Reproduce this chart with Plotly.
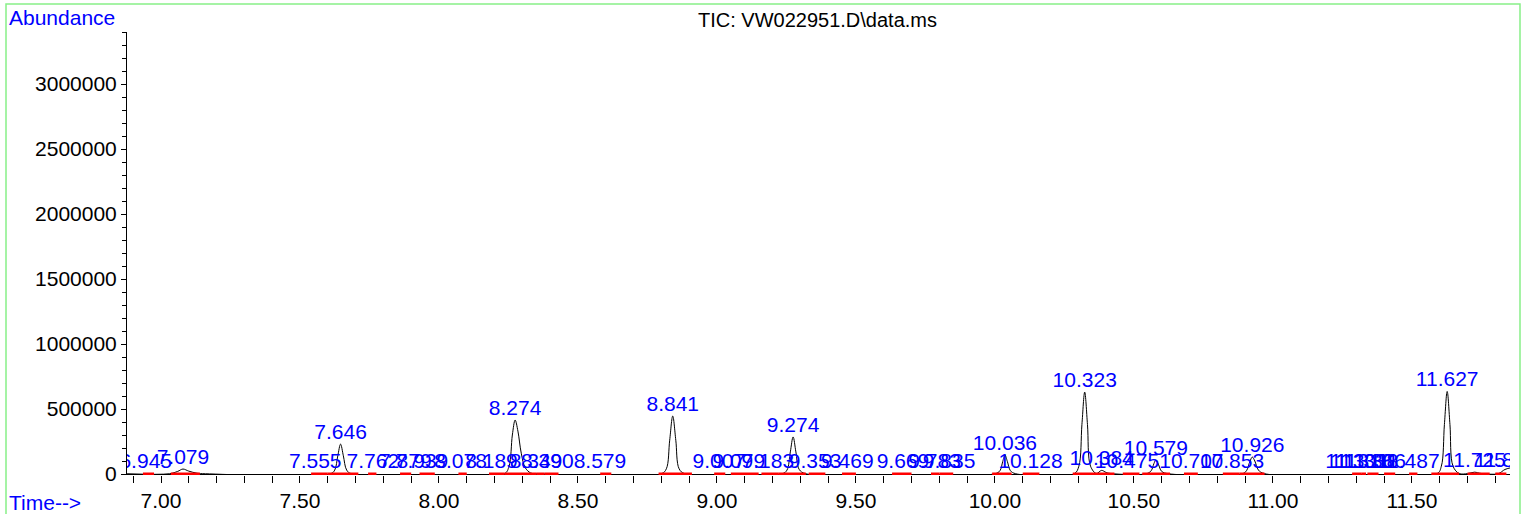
import plotly.graph_objects as go

# ---- chromatogram trace (time in min, abundance) ----
tic_time = [6.878, 7.03, 7.06, 7.079, 7.10, 7.13, 7.16,
            7.61, 7.625, 7.636, 7.646, 7.656, 7.668, 7.685,
            8.235, 8.252, 8.264, 8.274, 8.284, 8.296, 8.31, 8.33, 8.36,
            8.80, 8.818, 8.83, 8.841, 8.852, 8.864, 8.885,
            9.235, 9.252, 9.264, 9.274, 9.284, 9.296, 9.32,
            10.00, 10.018, 10.028, 10.036, 10.045, 10.056, 10.075,
            10.285, 10.302, 10.313, 10.323, 10.333, 10.344, 10.365,
            10.384, 10.40, 10.42,
            10.545, 10.562, 10.572, 10.579, 10.588, 10.60, 10.625,
            10.89, 10.905, 10.917, 10.926, 10.935, 10.948, 10.97,
            11.59, 11.606, 11.617, 11.627, 11.637, 11.648, 11.67,
            11.70, 11.725, 11.75, 11.81, 11.835, 11.86]
tic_abund = [2000, 2000, 20000, 38000, 22000, 6000, 2000,
             2000, 30000, 140000, 230000, 140000, 30000, 2000,
             2000, 60000, 300000, 415000, 330000, 160000, 50000, 8000, 2000,
             2000, 40000, 260000, 446000, 260000, 40000, 2000,
             2000, 30000, 170000, 285000, 170000, 35000, 2000,
             2000, 25000, 95000, 146000, 95000, 25000, 2000,
             2000, 60000, 380000, 630000, 380000, 60000, 4000,
             28000, 12000, 3000,
             2000, 25000, 80000, 108000, 75000, 20000, 2000,
             2000, 25000, 95000, 130000, 100000, 30000, 3000,
             2000, 60000, 380000, 635000, 380000, 60000, 4000,
             3000, 14000, 4000, 2000, 35000, 50000]

# ---- integrated peaks: label, apex abundance, integration start/end ----
peak_labels = ["6.945", "7.079", "7.555", "7.646", "7.762", "7.879", "7.939", "8.078",
               "8.189", "8.274", "8.349", "8.390", "8.579", "8.841", "9.007", "9.079",
               "9.183", "9.274", "9.353", "9.469", "9.669", "9.783", "9.835", "10.036",
               "10.128", "10.323", "10.384", "10.475", "10.579", "10.707", "10.853", "10.926",
               "11.301", "11.318", "11.338", "11.366", "11.487", "11.627", "11.725", "11.838"]
peak_height = [2000, 38000, 2000, 230000, 2000, 2000, 2000, 2000,
               2000, 415000, 3000, 3000, 2000, 446000, 2000, 2000,
               2000, 285000, 3000, 2000, 2000, 2000, 2000, 146000,
               3000, 630000, 28000, 3000, 108000, 2000, 3000, 130000,
               2000, 2000, 2000, 2000, 2000, 635000, 14000, 14000]
seg_start = [6.935, 7.035, 7.54, 7.60, 7.745, 7.86, 7.93, 8.07,
             8.18, 8.235, 8.35, 8.38, 8.58, 8.79, 8.99, 9.05,
             9.16, 9.22, 9.33, 9.45, 9.63, 9.77, 9.80, 9.99,
             10.10, 10.28, 10.36, 10.46, 10.53, 10.68, 10.82, 10.88,
             11.285, 11.32, 11.34, 11.40, 11.49, 11.57, 11.70, 11.80]
seg_end = [6.975, 7.14, 7.60, 7.71, 7.775, 7.90, 7.985, 8.10,
           8.235, 8.35, 8.38, 8.43, 8.62, 8.91, 9.03, 9.15,
           9.22, 9.32, 9.39, 9.50, 9.70, 9.80, 9.85, 10.06,
           10.16, 10.36, 10.43, 10.52, 10.63, 10.73, 10.88, 10.97,
           11.32, 11.335, 11.38, 11.44, 11.52, 11.67, 11.78, 11.84]

x_range = [6.8777, 11.853]
y_range = [-7692, 3400000]

FONT = "Liberation Sans, Arial"

fig = go.Figure()

# chromatogram
fig.add_trace(go.Scatter(x=tic_time, y=tic_abund, mode="lines",
                         line=dict(color="black", width=1, shape="spline", smoothing=1),
                         hoverinfo="skip"))

# red integration baselines (on top of the trace and the zero line)
seg_x, seg_y = [], []
for s, e in zip(seg_start, seg_end):
    seg_x += [s, e, None]
    seg_y += [0, 0, None]
fig.add_trace(go.Scatter(x=seg_x, y=seg_y, mode="lines",
                         line=dict(color="#ff0000", width=3), hoverinfo="skip"))

# peak labels
fig.add_trace(go.Scatter(x=[float(v) for v in peak_labels], y=peak_height, mode="text",
                         text=peak_labels, textposition="top center", cliponaxis=True,
                         textfont=dict(family=FONT, size=21, color="#0000ff"),
                         hoverinfo="skip"))

L, R, T, B = 127, 16, 32, 39
W, H = 1526, 514
pw, ph = W - L - R, H - T - B

def px(x):
    return (x - L) / pw

def py(y):
    return (H - B - y) / ph

fig.update_layout(
    template="none",
    width=W, height=H,
    margin=dict(l=L, r=R, t=T, b=B, pad=0, autoexpand=False),
    paper_bgcolor="white", plot_bgcolor="white",
    showlegend=False,
    font=dict(family=FONT, size=21, color="black"),
    xaxis=dict(range=x_range, tick0=7, dtick=0.5, tickformat=".2f", automargin=False,
               ticks="outside", ticklen=7, tickcolor="black", tickwidth=1,
               minor=dict(dtick=0.1, ticks="outside", ticklen=7, tickcolor="black", showgrid=False),
               showline=False,
               showgrid=False, zeroline=False, layer="below traces",
               tickfont=dict(size=21, color="black")),
    yaxis=dict(range=y_range, dtick=500000, tick0=0, tickformat="d", automargin=False,
               ticks="outside", ticklen=5, tickcolor="black", tickwidth=1,
               minor=dict(dtick=100000, tick0=0, ticks="outside", ticklen=4, tickcolor="black", showgrid=False),
               showline=True, linecolor="black", linewidth=1,
               showgrid=False, zeroline=True, zerolinecolor="black", zerolinewidth=1,
               layer="below traces",
               tickfont=dict(size=21, color="black")),
    shapes=[dict(type="rect", xref="paper", yref="paper",
                 x0=px(6), x1=px(1520), y0=py(530), y1=py(4),
                 line=dict(color="#88f088", width=1.5), fillcolor="rgba(0,0,0,0)", layer="below")],
    annotations=[
        dict(text="Abundance", x=px(7), y=py(17), xref="paper", yref="paper",
             xanchor="left", yanchor="middle", showarrow=False,
             font=dict(size=21, color="#0000ff")),
        dict(text="Time-->", x=px(7), y=py(502), xref="paper", yref="paper",
             xanchor="left", yanchor="middle", showarrow=False,
             font=dict(size=21, color="#0000ff")),
        dict(text="TIC: VW022951.D\\data.ms", x=px(817.5), y=py(20), xref="paper", yref="paper",
             xanchor="center", yanchor="middle", showarrow=False,
             font=dict(size=20, color="black")),
    ],
)

fig.write_html("out.html", config={"displayModeBar": False},
               post_script="document.body.style.margin='0px';document.body.style.overflow='hidden';")
